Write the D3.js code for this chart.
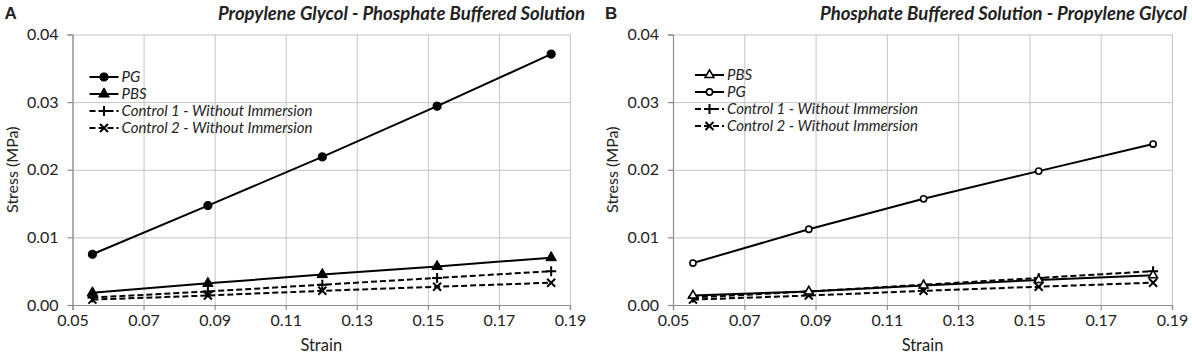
<!DOCTYPE html>
<html>
<head>
<meta charset="utf-8">
<script src="https://cdn.jsdelivr.net/npm/d3@7"></script>
<style>
  html, body { margin: 0; padding: 0; background: #fff; }
  #chart { width: 1192px; height: 355px; }
  text { font-family: Lato, "Open Sans", sans-serif; fill: #222; }
  .grid line { stroke: #c4c4c4; stroke-width: 1; }
  .axis path, .axis line { stroke: #8c8c8c; stroke-width: 1.2; }
</style>
</head>
<body>
<div id="chart"></div>
<script>
// Stress-strain curves, two panels
const strain = [0.0556, 0.0881, 0.1203, 0.1526, 0.1847];

const pgA = [0.0075, 0.0147, 0.0219, 0.0294, 0.0371];
const pbsA = [0.0018, 0.0032, 0.0045, 0.0057, 0.0070];
const pgB = [0.0062, 0.0112, 0.0157, 0.0198, 0.0238];
const pbsB = [0.0014, 0.0020, 0.0029, 0.0037, 0.0044];
const control1 = [0.0011, 0.0020, 0.0030, 0.0040, 0.0050];
const control2 = [0.0008, 0.0014, 0.0021, 0.0027, 0.0033];

const xTicks = [0.05, 0.07, 0.09, 0.11, 0.13, 0.15, 0.17, 0.19];
const yTicks = [0, 0.01, 0.02, 0.03, 0.04];

const panels = [
  {
    letter: "A", title: "Propylene Glycol - Phosphate Buffered Solution",
    left: 72.5, right: 570, legendX: 17, legendY: 77,
    series: [
      { name: "PG", values: pgA, marker: "circle", open: false, dashed: false },
      { name: "PBS", values: pbsA, marker: "triangle", open: false, dashed: false },
      { name: "Control 1 - Without Immersion", values: control1, marker: "plus", dashed: true },
      { name: "Control 2 - Without Immersion", values: control2, marker: "cross", dashed: true }
    ]
  },
  {
    letter: "B", title: "Phosphate Buffered Solution - Propylene Glycol",
    left: 673, right: 1172, legendX: 22, legendY: 75,
    series: [
      { name: "PBS", values: pbsB, marker: "triangle", open: true, dashed: false },
      { name: "PG", values: pgB, marker: "circle", open: true, dashed: false },
      { name: "Control 1 - Without Immersion", values: control1, marker: "plus", dashed: true },
      { name: "Control 2 - Without Immersion", values: control2, marker: "cross", dashed: true }
    ]
  }
];

const plotTop = 34.5, plotBottom = 305;

const svg = d3.select("#chart").append("svg")
  .attr("width", 1192)
  .attr("height", 355);

function drawMarker(sel, s) {
  if (s.marker === "circle") {
    sel.append("path")
      .attr("d", d3.symbol(d3.symbolCircle, s.open ? 30 : 52)())
      .attr("fill", s.open ? "#fff" : "#000")
      .attr("stroke", "#000")
      .attr("stroke-width", s.open ? 1.6 : 1);
  } else if (s.marker === "triangle") {
    sel.append("path")
      .attr("d", d3.symbol(d3.symbolTriangle, s.open ? 34 : 48)())
      .attr("fill", s.open ? "#fff" : "#000")
      .attr("stroke", "#000")
      .attr("stroke-width", s.open ? 1.6 : 1);
  } else if (s.marker === "plus") {
    sel.append("path")
      .attr("d", "M-5,0H5M0,-5V5")
      .attr("stroke", "#000")
      .attr("stroke-width", 2);
  } else {
    sel.append("path")
      .attr("d", "M-4,-4L4,4M-4,4L4,-4")
      .attr("stroke", "#000")
      .attr("stroke-width", 2);
  }
}

panels.forEach(p => {
  const x = d3.scaleLinear().domain([0.05, 0.19]).range([p.left, p.right]);
  const y = d3.scaleLinear().domain([0, 0.04]).range([plotBottom, plotTop]);

  // gridlines
  svg.append("g")
    .attr("class", "grid")
    .attr("transform", `translate(0,${plotBottom})`)
    .call(d3.axisBottom(x).tickValues(xTicks).tickSize(-(plotBottom - plotTop)).tickFormat(""))
    .select(".domain").remove();

  svg.append("g")
    .attr("class", "grid")
    .attr("transform", `translate(${p.left},0)`)
    .call(d3.axisLeft(y).tickValues(yTicks).tickSize(-(p.right - p.left)).tickFormat(""))
    .select(".domain").remove();

  // axes
  const xAxis = svg.append("g")
    .attr("class", "axis")
    .attr("transform", `translate(0,${plotBottom})`)
    .call(d3.axisBottom(x).tickValues(xTicks).tickSizeOuter(0).tickSize(5).tickPadding(5)
      .tickFormat(d3.format(".2f")));
  xAxis.selectAll("text").attr("font-size", 16);

  const yAxis = svg.append("g")
    .attr("class", "axis")
    .attr("transform", `translate(${p.left},0)`)
    .call(d3.axisLeft(y).tickValues(yTicks).tickSizeOuter(0).tickSize(5).tickPadding(9)
      .tickFormat(d3.format(".2f")));
  yAxis.selectAll("text").attr("font-size", 16);

  svg.append("text")
    .attr("x", (p.left + p.right) / 2)
    .attr("y", 351)
    .attr("text-anchor", "middle")
    .attr("font-size", 16.5)
    .text("Strain");

  svg.append("text")
    .attr("transform", `translate(${p.left - 55},${(plotTop + plotBottom) / 2}) rotate(-90)`)
    .attr("text-anchor", "middle")
    .attr("font-size", 16)
    .text("Stress (MPa)");

  // titles
  svg.append("text")
    .attr("x", p.left - 68)
    .attr("y", 19)
    .attr("font-weight", "bold")
    .attr("font-size", 17)
    .style("font-family", "'Liberation Sans', Arial, sans-serif")
    .text(p.letter);

  svg.append("text")
    .attr("x", p.right + 15)
    .attr("y", 20)
    .attr("text-anchor", "end")
    .attr("font-weight", "bold")
    .attr("font-style", "italic")
    .attr("font-size", 18.5)
    .text(p.title);

  // series
  const line = d3.line()
    .x((d, i) => x(strain[i]))
    .y(d => y(d));

  p.series.slice().reverse().forEach(s => {
    svg.append("path")
      .datum(s.values)
      .attr("fill", "none")
      .attr("stroke", "#000")
      .attr("stroke-width", 2)
      .attr("stroke-dasharray", s.dashed ? "6,3" : null)
      .attr("d", line);

    svg.append("g").selectAll("g")
      .data(s.values)
      .enter()
      .append("g")
      .attr("transform", (d, i) => `translate(${x(strain[i])},${y(d)})`)
      .each(function() { drawMarker(d3.select(this), s); });
  });

  // legend
  const legend = svg.append("g")
    .attr("transform", `translate(${p.left + p.legendX},${p.legendY})`);

  p.series.forEach((s, i) => {
    const row = legend.append("g").attr("transform", `translate(0,${i * 17})`);
    row.append("line")
      .attr("x1", 0).attr("x2", 29)
      .attr("stroke", "#000")
      .attr("stroke-width", 2)
      .attr("stroke-dasharray", s.dashed ? "6,3" : null);
    drawMarker(row.append("g").attr("transform", "translate(14.5,0)"), s);
    row.append("text")
      .attr("x", 32)
      .attr("dy", "0.35em")
      .attr("font-style", "italic")
      .attr("font-size", 15)
      .text(s.name);
  });
});
</script>
</body>
</html>
